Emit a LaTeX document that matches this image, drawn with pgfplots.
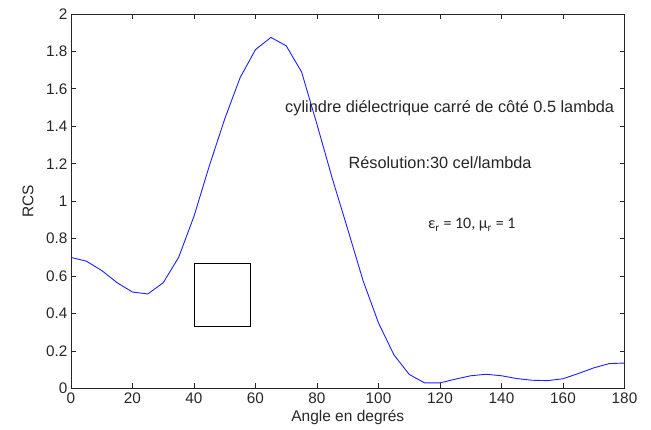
\documentclass[border=0pt]{standalone}
\usepackage{fontspec}
\setmainfont{Liberation Sans}
\newfontfamily\carlito{Carlito}
\usepackage{pgfplots}
\pgfplotsset{compat=1.18}
\begin{document}
\begin{tikzpicture}
\useasboundingbox (0,0) rectangle (651bp,430bp);
\begin{axis}[
  at={(71bp,41.5bp)}, anchor=south west,
  scale only axis, width=553.5bp, height=374.5bp,
  xmin=0, xmax=180, ymin=0, ymax=2,
  xtick={0,20,40,60,80,100,120,140,160,180},
  ytick={0,0.2,0.4,0.6,0.8,1,1.2,1.4,1.6,1.8,2},
  yticklabels={0,0.2,0.4,0.6,0.8,1,1.2,1.4,1.6,1.8,2},
  xtick pos=both, ytick pos=both,
  xticklabel pos=lower, yticklabel pos=left,
  tick align=inside, major tick length=5bp,
  axis line style={black!85, line width=0.8bp},
  tick style={black!85, line width=0.8bp},
  /pgf/number format/assume math mode=true,
  ticklabel style={font=\fontsize{15.3bp}{18bp}\selectfont, text=black!85},
  xticklabel style={yshift=-1bp},
  xlabel={Angle en degrés},
  ylabel={RCS},
  xlabel style={font=\fontsize{15.5bp}{18bp}\selectfont, text=black!85, at={(axis description cs:0.5,0)}, anchor=base, yshift=-32.5bp},
  ylabel style={font=\fontsize{15.5bp}{18bp}\selectfont, text=black!85, at={(axis description cs:-0.0777,0.5)}, anchor=center},
  clip=false,
]
\addplot[color={rgb,255:red,30;green,30;blue,255}, line width=0.9bp] coordinates {
(0,0.70)(5,0.68)(10,0.63)(15,0.565)(20,0.515)(25,0.505)(30,0.565)(35,0.70)
(40,0.92)(45,1.19)(50,1.44)(55,1.66)(60,1.81)(65,1.875)(70,1.83)(75,1.69)
(80,1.41)(85,1.12)(90,0.85)(95,0.575)(100,0.35)(105,0.18)(110,0.075)(115,0.03)
(120,0.03)(125,0.05)(130,0.068)(135,0.076)(140,0.068)(145,0.053)(150,0.044)
(155,0.042)(160,0.052)(165,0.08)(170,0.11)(175,0.133)(180,0.136)
};
\addplot[black, line width=0.8bp] coordinates {(40,0.333)(58.5,0.333)(58.5,0.667)(40,0.667)(40,0.333)};
\node[anchor=west, inner sep=0, text=black!85, font=\fontsize{16.3bp}{19bp}\selectfont] at (axis cs:69.6,1.496) {cylindre diélectrique carré de côté 0.5 lambda};
\node[anchor=west, inner sep=0, text=black!85, font=\fontsize{16.3bp}{19bp}\selectfont] at (axis cs:90.2,1.204) {Résolution:30 cel/lambda};
\node[anchor=west, inner sep=0, text=black!85, font=\carlito\fontsize{16bp}{19bp}\selectfont] at (axis cs:116.1,0.873) {ε\textsubscript{r} = 10, μ\textsubscript{r} = 1};
\end{axis}
\end{tikzpicture}
\end{document}
